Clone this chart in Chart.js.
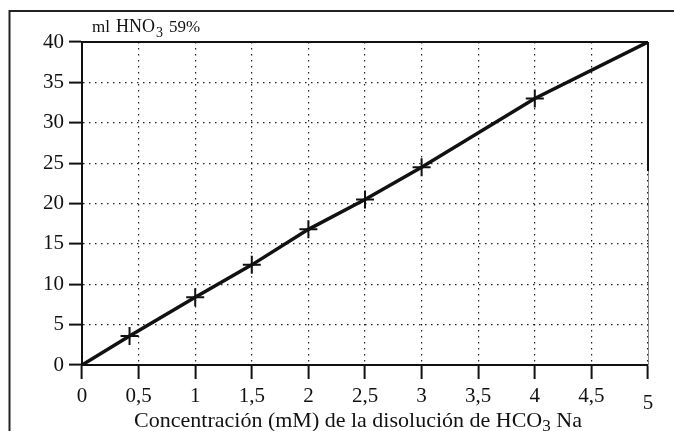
<!DOCTYPE html>
<html>
<head>
<meta charset="utf-8">
<script src="https://cdn.jsdelivr.net/npm/chart.js@4"></script>
<style>
  html, body { margin: 0; padding: 0; background: #fff; }
  #wrap { position: relative; width: 674px; height: 431px; }
</style>
</head>
<body>
<div id="wrap"><canvas id="c" width="674" height="431"></canvas></div>
<script>
// Data
const concentration = [0, 0.42, 1.0, 1.5, 2.0, 2.5, 3.0, 4.0, 5.0];
const volumeHNO3   = [0, 3.6, 8.4, 12.4, 16.8, 20.5, 24.5, 33.0, 40.0];
const markerShown  = [false, true, true, true, true, true, true, true, false];
const xTicks = [0, 0.5, 1, 1.5, 2, 2.5, 3, 3.5, 4, 4.5, 5];
const yTicks = [0, 5, 10, 15, 20, 25, 30, 35, 40];

const serif = '"Liberation Serif", "DejaVu Serif", serif';

const points = concentration.map((x, i) => ({ x: x, y: volumeHNO3[i] }));

const decor = {
  id: 'decor',
  afterDraw(chart) {
    const ctx = chart.ctx;
    const a = chart.chartArea;
    const xs = chart.scales.x;
    ctx.save();
    // outer frame (top and left)
    ctx.strokeStyle = '#222';
    ctx.lineWidth = 2;
    ctx.beginPath();
    ctx.moveTo(9.5, 431);
    ctx.lineTo(9.5, 11);
    ctx.lineTo(674, 11);
    ctx.stroke();
    // plot top border
    ctx.strokeStyle = '#111';
    ctx.lineWidth = 2;
    ctx.beginPath();
    ctx.moveTo(a.left, a.top);
    ctx.lineTo(a.right, a.top);
    ctx.stroke();
    // plot right border: thick at top, thin grey below
    ctx.beginPath();
    ctx.moveTo(a.right, a.top);
    ctx.lineTo(a.right, 171);
    ctx.stroke();
    ctx.strokeStyle = '#888';
    ctx.lineWidth = 1;
    ctx.beginPath();
    ctx.moveTo(a.right + 0.5, 171);
    ctx.lineTo(a.right + 0.5, a.bottom);
    ctx.stroke();

    ctx.fillStyle = '#111';
    ctx.textBaseline = 'alphabetic';
    // last x tick label sits slightly lower
    ctx.font = '21px ' + serif;
    ctx.textAlign = 'center';
    ctx.fillText('5', xs.getPixelForValue(5), 409);

    // y title: ml HNO3 59%
    ctx.textAlign = 'left';
    let x = 92;
    ctx.font = '17px ' + serif;
    ctx.fillText('ml', x, 32);
    x += ctx.measureText('ml').width + 6;
    ctx.font = '18px ' + serif;
    ctx.fillText('HNO', x, 32);
    x += ctx.measureText('HNO').width + 1;
    ctx.font = '14px ' + serif;
    ctx.fillText('3', x, 37);
    x += ctx.measureText('3').width + 6;
    ctx.font = '17px ' + serif;
    ctx.fillText('59%', x, 32);

    // x title
    const p1 = 'Concentración (mM) de la disolución de HCO';
    const p2 = '3';
    const p3 = ' Na';
    ctx.font = '22px ' + serif;
    const w1 = ctx.measureText(p1).width;
    const w3 = ctx.measureText(p3).width;
    ctx.font = '17px ' + serif;
    const w2 = ctx.measureText(p2).width;
    const total = w1 + w2 + w3;
    let tx = 358 - total / 2;
    const ty = 427;
    ctx.font = '22px ' + serif;
    ctx.fillText(p1, tx, ty);
    tx += w1;
    ctx.font = '17px ' + serif;
    ctx.fillText(p2, tx, ty + 4);
    tx += w2;
    ctx.font = '22px ' + serif;
    ctx.fillText(p3, tx, ty);
    ctx.restore();
  }
};

new Chart(document.getElementById('c'), {
  type: 'scatter',
  data: {
    datasets: [{
      data: points,
      showLine: true,
      borderColor: '#111',
      borderWidth: 3.5,
      tension: 0,
      pointStyle: 'cross',
      pointRadius: markerShown.map(s => s ? 9 : 0),
      pointHoverRadius: markerShown.map(s => s ? 9 : 0),
      pointBorderWidth: 2,
      pointBorderColor: '#111',
      pointBackgroundColor: '#111'
    }]
  },
  plugins: [decor],
  options: {
    responsive: false,
    animation: false,
    events: [],
    layout: { padding: { left: 0, top: 42, right: 26, bottom: 0 } },
    plugins: { legend: { display: false }, tooltip: { enabled: false } },
    scales: {
      x: {
        type: 'linear',
        min: 0, max: 5,
        afterBuildTicks(scale) { scale.ticks = xTicks.map(v => ({ value: v })); },
        afterFit(scale) { scale.height = 66; },
        ticks: {
          color: '#111',
          font: { family: serif, size: 21 },
          padding: 5,
          maxRotation: 0,
          autoSkip: false,
          callback(v) { return v === 5 ? '' : String(v).replace('.', ','); }
        },
        grid: {
          color: '#222',
          lineWidth: 1.2,
          drawTicks: true,
          tickLength: 14,
          tickColor: '#111',
          tickWidth: 2,
          tickBorderDash: []
        },
        border: { display: true, color: '#111', width: 2, dash: [1.5, 4.5] }
      },
      y: {
        type: 'linear',
        min: 0, max: 40,
        afterBuildTicks(scale) { scale.ticks = yTicks.map(v => ({ value: v })); },
        afterFit(scale) { scale.width = 82; },
        ticks: {
          color: '#111',
          font: { family: serif, size: 21 },
          padding: 5,
          autoSkip: false,
          callback(v) { return String(v); }
        },
        grid: {
          color: '#222',
          lineWidth: 1.2,
          drawTicks: true,
          tickLength: 13,
          tickColor: '#111',
          tickWidth: 2,
          tickBorderDash: []
        },
        border: { display: true, color: '#111', width: 2, dash: [1.5, 4.5] }
      }
    }
  }
});
</script>
</body>
</html>
